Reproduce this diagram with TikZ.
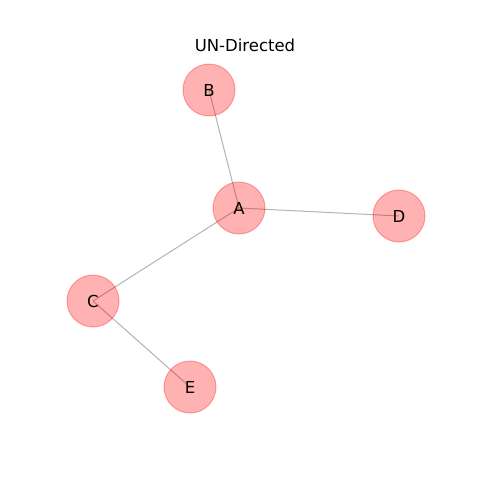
\documentclass[tikz,border=0pt]{standalone}
\usepackage{fontspec}
\setmainfont{DejaVu Sans}
\definecolor{edgegray}{HTML}{808080}
\tikzset{
  vtx/.style={circle, minimum size=52pt, inner sep=0pt, fill=red, fill opacity=0.3, draw=red, draw opacity=0.3, line width=1pt, text opacity=1, font=\fontsize{16.5}{19}\selectfont},
  lnk/.style={draw=edgegray, draw opacity=0.6, line width=1pt}
}
\begin{document}
\begin{tikzpicture}[x=1pt,y=-1pt]
\useasboundingbox (0,0) rectangle (480,480);
\node[font=\fontsize{16.5}{19}\selectfont] (title) at (245,45) {UN-Directed};
\coordinate (pA) at (239,208);
\coordinate (pB) at (209,90);
\coordinate (pC) at (93,301);
\coordinate (pD) at (399,216);
\coordinate (pE) at (190,387);
\draw[lnk] (pA) -- (pB);
\draw[lnk] (pA) -- (pD);
\draw[lnk] (pA) -- (pC);
\draw[lnk] (pC) -- (pE);
\node[vtx] (A) at (pA) {A};
\node[vtx] (B) at (pB) {B};
\node[vtx] (C) at (pC) {C};
\node[vtx] (D) at (pD) {D};
\node[vtx] (E) at (pE) {E};
\end{tikzpicture}
\end{document}
